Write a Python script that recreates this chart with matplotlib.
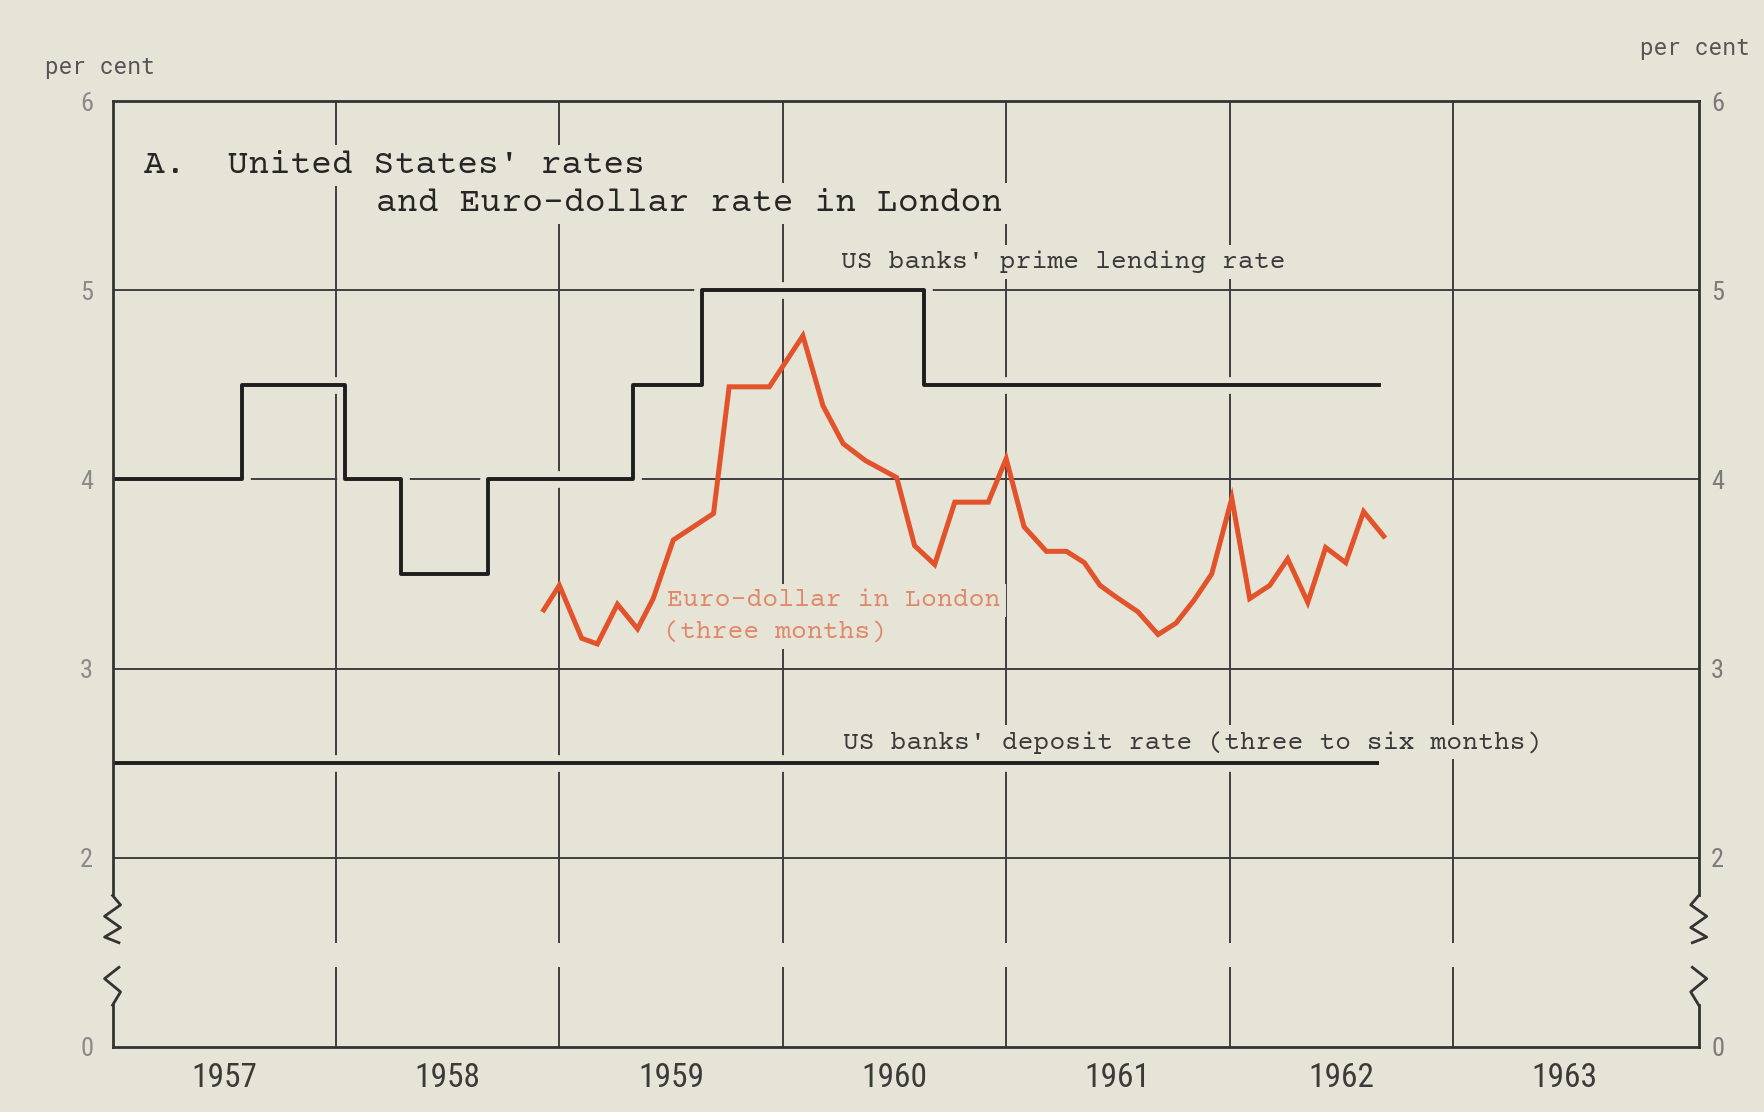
import matplotlib
matplotlib.use("Agg")
import matplotlib.pyplot as plt
import matplotlib.patheffects as pe
import matplotlib.transforms as mtransforms
from matplotlib import font_manager
import numpy as np

# --- data (years as decimals, rates in per cent) ---
years = [1957, 1958, 1959, 1960, 1961, 1962, 1963]
year_labels = ['1957', '1958', '1959', '1960', '1961', '1962', '1963']

prime_dates = [1957.0, 1957.58, 1958.04, 1958.29, 1958.68, 1959.33, 1959.64, 1960.63, 1962.67]
prime_rates = [4.0, 4.5, 4.0, 3.5, 4.0, 4.5, 5.0, 4.5, 4.5]

deposit_dates = [1957.0, 1962.67]
deposit_rates = [2.5, 2.5]

euro_dates = [1958.93, 1959.00, 1959.10, 1959.17, 1959.26, 1959.35, 1959.42, 1959.51,
              1959.69, 1959.76, 1959.94, 1960.09, 1960.18, 1960.27, 1960.37, 1960.51,
              1960.59, 1960.68, 1960.77, 1960.92, 1961.00, 1961.08, 1961.18, 1961.27,
              1961.35, 1961.42, 1961.49, 1961.59, 1961.68, 1961.76, 1961.84, 1961.92,
              1962.01, 1962.09, 1962.18, 1962.26, 1962.35, 1962.43, 1962.52, 1962.60,
              1962.69]
euro_rates = [3.31, 3.44, 3.16, 3.13, 3.34, 3.21, 3.37, 3.68,
              3.82, 4.49, 4.49, 4.76, 4.39, 4.19, 4.10, 4.01,
              3.65, 3.55, 3.88, 3.88, 4.11, 3.75, 3.62, 3.62,
              3.56, 3.44, 3.38, 3.30, 3.18, 3.24, 3.36, 3.50,
              3.90, 3.37, 3.44, 3.58, 3.35, 3.64, 3.56, 3.83,
              3.70]

# y axis is broken between 2 and 0: the "0" sits one unit below 2
ytick_pos = [1, 2, 3, 4, 5, 6]
ytick_labels = ['0', '2', '3', '4', '5', '6']

all_names = {f.name for f in font_manager.fontManager.ttflist}


def pick(*names):
    for n in names:
        if n in all_names:
            return n
    return 'DejaVu Sans'


narrow = pick('Roboto Condensed', 'Archivo Narrow', 'PT Sans Narrow', 'DejaVu Sans')
typew = pick('Courier Prime', 'Cutive Mono', 'Liberation Mono', 'DejaVu Sans Mono')
mono2 = pick('Roboto Mono', 'DejaVu Sans Mono')

bg = '#e6e4d7'
ink = '#262626'
grid_c = '#3f3f3f'
orange = '#e2532b'

fig = plt.figure(figsize=(17.64, 11.12), dpi=100, facecolor=bg)
ax = fig.add_axes([0.0638, 0.0587, 0.8992, 0.8502])
ax.set_facecolor(bg)
ax.set_xlim(1957, 1964.1)
ax.set_ylim(1, 6)

# grid
for yv in [2, 3, 4, 5]:
    ax.axhline(yv, color=grid_c, lw=1.4, zorder=1)
for yr in years[1:]:
    ax.vlines(yr, 1.55, 6, color=grid_c, lw=1.4, zorder=1)
    ax.vlines(yr, 1.0, 1.42, color=grid_c, lw=1.4, zorder=1)

# spines: top/bottom kept, sides drawn with break marks
for s in ['left', 'right']:
    ax.spines[s].set_visible(False)
for s in ['top', 'bottom']:
    ax.spines[s].set_color('#333333')
    ax.spines[s].set_linewidth(2.0)

blend = mtransforms.blended_transform_factory(ax.transAxes, ax.transData)
d = 8 / (0.8992 * 1764)
zig_top = np.array([0, 1, -1, 1, -1, 0.8])
zig_top_y = [1.80, 1.75, 1.69, 1.63, 1.58, 1.55]
zig_bot = np.array([0.8, -1, 1, 0])
zig_bot_y = [1.42, 1.36, 1.29, 1.22]
for xa, sgn in [(0, 1), (1, -1)]:
    ax.plot([xa, xa], [6, 1.80], color='#333333', lw=2.0, transform=blend, clip_on=False, zorder=7)
    ax.plot(xa + sgn * d * zig_top, zig_top_y, color='#333333', lw=2.0, transform=blend, clip_on=False, zorder=7)
    ax.plot(xa + sgn * d * zig_bot, zig_bot_y, color='#333333', lw=2.0, transform=blend, clip_on=False, zorder=7)
    ax.plot([xa, xa], [1.22, 1.0], color='#333333', lw=2.0, transform=blend, clip_on=False, zorder=7)

# series
gap = [pe.Stroke(linewidth=12, foreground=bg), pe.Normal()]
ax.step(prime_dates, prime_rates, where='post', color='#1e1e1e', lw=2.8, zorder=5,
        path_effects=gap)
ax.plot(deposit_dates, deposit_rates, color='#1e1e1e', lw=2.8, zorder=5,
        solid_capstyle='butt', path_effects=gap)
ax.plot(euro_dates, euro_rates, color=orange, lw=3.6, zorder=6, solid_joinstyle='miter')

# labels inside the plot (boxes cut the grid as in the original)
box = dict(facecolor=bg, edgecolor='none', pad=4)
ax.text(1957.14, 5.66, "A.  United States' rates", family=typew, fontsize=25, color=ink,
        va='center', ha='left', zorder=3, bbox=box)
ax.text(1958.18, 5.46, "and Euro-dollar rate in London", family=typew, fontsize=25, color=ink,
        va='center', ha='left', zorder=3, bbox=box)
ax.text(1960.26, 5.15, "US banks' prime lending rate", family=typew, fontsize=19, color='#3a3a3a',
        va='center', ha='left', zorder=3, bbox=box)
ax.text(1960.27, 2.61, "US banks' deposit rate (three to six months)", family=typew, fontsize=19,
        color='#3a3a3a', va='center', ha='left', zorder=3, bbox=box)
ax.text(1959.48, 3.36, "Euro-dollar in London", family=typew, fontsize=19, color='#e0886a',
        va='center', ha='left', zorder=3, bbox=box)
ax.text(1959.47, 3.19, "(three months)", family=typew, fontsize=19, color='#e0886a',
        va='center', ha='left', zorder=3, bbox=box)

# ticks
ax.set_xticks([y + 0.5 for y in years])
ax.set_xticklabels(year_labels, family=narrow, fontsize=24, color='#3a3a3a')
ax.tick_params(axis='x', length=0, pad=11)
ax.set_yticks(ytick_pos)
ax.set_yticklabels(ytick_labels, family=narrow, fontsize=19, color='#8a8a8a')
ax.tick_params(axis='y', length=0, pad=14)

ax2 = ax.twinx()
ax2.set_ylim(1, 6)
ax2.set_yticks(ytick_pos)
ax2.set_yticklabels(ytick_labels, family=narrow, fontsize=19, color='#7a7a7a')
ax2.tick_params(axis='y', length=0, pad=9)
for s in ax2.spines.values():
    s.set_visible(False)

fig.text(0.0255, 0.939, 'per cent', family=mono2, fontsize=16.5, color='#555555', va='center', ha='left')
fig.text(0.9917, 0.9565, 'per cent', family=mono2, fontsize=16.5, color='#555555', va='center', ha='right')

fig.savefig('out.png', dpi=100, facecolor=bg)
